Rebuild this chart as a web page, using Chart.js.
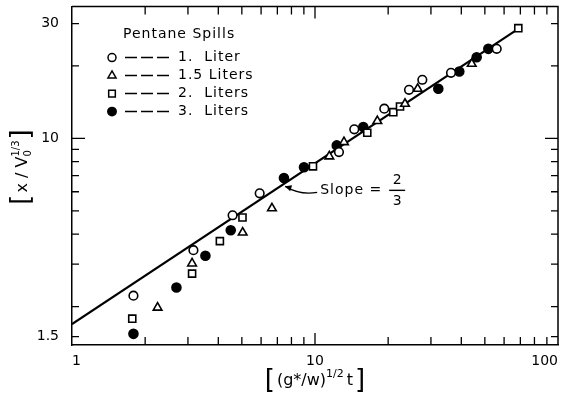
<!DOCTYPE html>
<html>
<head>
<meta charset="utf-8">
<script src="https://cdn.jsdelivr.net/npm/chart.js@4.4.1/dist/chart.umd.min.js"></script>
<style>
  html, body { margin: 0; padding: 0; background: #fff; }
  canvas { display: block; }
</style>
</head>
<body>
<canvas id="graficoSpills" width="566" height="397"></canvas>
<script>
// points, [ (g*/w)^1/2 t , x / V0^1/3 ]
const liter1 = [[1.79, 2.22], [3.16, 3.43], [4.58, 4.79], [5.92, 5.91], [12.55, 8.77], [14.51, 10.9],
                [19.28, 13.28], [24.37, 15.92], [27.65, 17.52], [36.28, 18.73], [55.95, 23.55]];
const liter15 = [[2.25, 1.98], [3.12, 3.02], [5.04, 4.06], [6.65, 5.12], [11.45, 8.42], [13.16, 9.65],
                 [18.05, 11.8], [23.46, 13.93], [26.46, 16.07], [44.16, 20.41]];
const liter2 = [[1.77, 1.78], [3.12, 2.74], [4.06, 3.74], [5.03, 4.69], [9.81, 7.65], [16.41, 10.55],
                [21.0, 12.85], [22.38, 13.57], [68.65, 28.7]];
const liter3 = [[1.79, 1.54], [2.69, 2.40], [3.54, 3.25], [4.50, 4.15], [7.45, 6.84], [9.01, 7.58],
                [12.29, 9.35], [15.8, 11.14], [32.17, 16.07], [39.25, 18.97], [46.28, 21.74], [51.68, 23.55]];
// slope 2/3 line, ends
const fitLine = [[1, 1.69], [68.6, 28.5]];

const seriesNames = ['1.  Liter', '1.5 Liters', '2.  Liters', '3.  Liters'];
const legendTitle = 'Pentane Spills';
const xTickLabels = [1, 10, 100];
const yTickLabels = [1.5, 10, 30];
const xTickMarks = [2, 3, 4, 5, 6, 7, 8, 9, 10, 20, 30, 40, 50, 60, 70, 80, 90];
const yTickMarks = [1.5, 2, 3, 4, 5, 6, 7, 8, 9, 10, 20, 30];

const FONT = '"DejaVu Sans"';
const pts = arr => arr.map(p => ({ x: p[0], y: p[1] }));

const markerStyles = [
    { pointStyle: 'circle', radius: 4.3, fill: '#fff' },
    { pointStyle: 'triangle', radius: 5, fill: '#fff' },
    { pointStyle: 'rect', radius: 5, fill: '#fff' },
    { pointStyle: 'circle', radius: 4.5, fill: '#000' }
];
const seriesData = [liter1, liter15, liter2, liter3];

const datasets = seriesData.map((d, i) => ({
    label: seriesNames[i],
    data: pts(d),
    pointStyle: markerStyles[i].pointStyle,
    pointRadius: markerStyles[i].radius,
    pointBackgroundColor: markerStyles[i].fill,
    pointBorderColor: '#000',
    pointBorderWidth: 1.6,
    showLine: false
}));
datasets.push({
    label: 'slope',
    data: pts(fitLine),
    showLine: true,
    borderColor: '#000',
    borderWidth: 2.2,
    pointRadius: 0
});

function richText(ctx, parts, x, y, center) {
    let w = 0;
    parts.forEach(p => {
        ctx.font = p.s + 'px ' + FONT;
        p.w = ctx.measureText(p.t).width + (p.gap || 0);
        if (p.sub) { ctx.font = p.subS + 'px ' + FONT; p.w = Math.max(p.w, ctx.measureText(p.sub).width); }
        w += p.w;
    });
    let cx = center ? x - w / 2 : x;
    parts.forEach(p => {
        ctx.font = p.s + 'px ' + FONT;
        ctx.fillText(p.t, cx, y + p.dy);
        if (p.sub) { ctx.font = p.subS + 'px ' + FONT; ctx.fillText(p.sub, cx, y + p.subDy); }
        cx += p.w;
    });
}

const extras = {
    id: 'extras',
    afterDraw(chart) {
        const { ctx, chartArea: a, scales: { x, y } } = chart;
        ctx.save();
        ctx.strokeStyle = '#000';
        ctx.fillStyle = '#000';

        // frame top / right
        ctx.lineWidth = 1.5;
        ctx.beginPath();
        ctx.moveTo(a.left, a.top);
        ctx.lineTo(a.right, a.top);
        ctx.lineTo(a.right, a.bottom);
        ctx.stroke();

        // inward tick marks on all four sides
        ctx.lineWidth = 1.3;
        ctx.beginPath();
        xTickMarks.forEach(v => {
            const px = x.getPixelForValue(v);
            const len = v === 10 ? 12 : 8;
            ctx.moveTo(px, a.bottom); ctx.lineTo(px, a.bottom - len);
            ctx.moveTo(px, a.top); ctx.lineTo(px, a.top + len);
        });
        yTickMarks.forEach(v => {
            const py = y.getPixelForValue(v);
            const len = v === 10 ? 13 : 7;
            ctx.moveTo(a.left, py); ctx.lineTo(a.left + len, py);
            ctx.moveTo(a.right, py); ctx.lineTo(a.right - len, py);
        });
        ctx.stroke();

        // axis titles
        ctx.textBaseline = 'alphabetic';
        ctx.textAlign = 'left';
        richText(ctx, [
            { t: '[', s: 26, dy: 3, gap: 2 },
            { t: '(g*/w)', s: 16, dy: 0 },
            { t: '1/2', s: 11, dy: -8, gap: 3 },
            { t: 't', s: 16, dy: 0, gap: 2 },
            { t: ']', s: 26, dy: 3 }
        ], (a.left + a.right) / 2, 385, true);

        ctx.save();
        ctx.translate(27, 167);
        ctx.rotate(-Math.PI / 2);
        richText(ctx, [
            { t: '[', s: 26, dy: 2, gap: 2 },
            { t: 'x / V', s: 16, dy: 0 },
            { t: '1/3', s: 10, dy: -8, sub: '0', subS: 10, subDy: 4, gap: 1 },
            { t: ']', s: 26, dy: 2 }
        ], 0, 0, true);
        ctx.restore();

        // legend
        ctx.letterSpacing = '1px';
        ctx.font = '14px ' + FONT;
        ctx.textBaseline = 'middle';
        ctx.fillText(legendTitle, a.left + 51, a.top + 28);
        seriesNames.forEach((name, i) => {
            const ly = a.top + 51 + i * 18;
            const m = markerStyles[i];
            ctx.fillStyle = m.fill;
            ctx.lineWidth = 1.5;
            Chart.helpers.drawPoint(ctx, { pointStyle: m.pointStyle, radius: m.radius - 0.3, borderWidth: 1.5, rotation: 0 }, a.left + 40, ly);
            ctx.fillStyle = '#000';
            ctx.save();
            ctx.lineWidth = 1.5;
            ctx.setLineDash([12, 4]);
            ctx.beginPath();
            ctx.moveTo(a.left + 53, ly);
            ctx.lineTo(a.left + 98, ly);
            ctx.stroke();
            ctx.restore();
            ctx.fillText(name, a.left + 106, ly);
        });

        // slope annotation anchored at a data position
        const sx = x.getPixelForValue(10.5), sy = y.getPixelForValue(6.08);
        ctx.fillText('Slope =', sx, sy);
        ctx.letterSpacing = '0px';
        ctx.font = '14px ' + FONT;
        ctx.textAlign = 'center';
        ctx.fillText('2', sx + 77, sy - 10);
        ctx.fillText('3', sx + 77, sy + 11);
        ctx.lineWidth = 1.4;
        ctx.beginPath();
        ctx.moveTo(sx + 69, sy);
        ctx.lineTo(sx + 85, sy);
        ctx.stroke();
        // curved leader with arrow head
        const ex = sx - 35, ey = sy - 4;
        ctx.beginPath();
        ctx.moveTo(sx - 3, sy + 2);
        ctx.quadraticCurveTo(sx - 20, sy + 5, ex, ey);
        ctx.stroke();
        ctx.beginPath();
        ctx.moveTo(ex, ey);
        ctx.lineTo(ex + 7, ey - 1);
        ctx.lineTo(ex + 5, ey + 5);
        ctx.closePath();
        ctx.fill();
        ctx.restore();
    }
};

new Chart(document.getElementById('graficoSpills').getContext('2d'), {
    type: 'scatter',
    data: { datasets: datasets },
    options: {
        responsive: false,
        animation: false,
        devicePixelRatio: 1,
        layout: { padding: { top: 6, right: 8, left: 0, bottom: 0 } },
        plugins: { legend: { display: false }, tooltip: { enabled: false } },
        scales: {
            x: {
                type: 'logarithmic',
                min: 1,
                max: 100,
                grid: { display: false },
                border: { display: true, color: '#000', width: 1.5 },
                afterBuildTicks: s => { s.ticks = xTickLabels.map(v => ({ value: v })); },
                afterFit: s => { s.height = 52; s.paddingLeft = 0; s.paddingRight = 0; },
                ticks: {
                    color: '#000',
                    align: 'inner',
                    padding: 0,
                    font: { family: 'DejaVu Sans', size: 14 },
                    callback: v => String(v)
                }
            },
            y: {
                type: 'logarithmic',
                min: 1.384,
                max: 35.29,
                grid: { display: false },
                border: { display: true, color: '#000', width: 1.5 },
                afterBuildTicks: s => { s.ticks = yTickLabels.map(v => ({ value: v })); },
                afterFit: s => { s.width = 72; s.paddingTop = 0; s.paddingBottom = 0; },
                ticks: {
                    color: '#000',
                    padding: 5,
                    font: { family: 'DejaVu Sans', size: 14 },
                    callback: v => String(v)
                }
            }
        }
    },
    plugins: [extras]
});
</script>
</body>
</html>
